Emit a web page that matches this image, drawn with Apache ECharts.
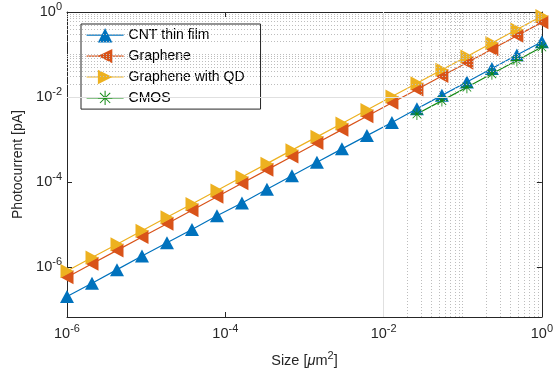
<!DOCTYPE html>
<html>
<head>
<meta charset="utf-8">
<script src="https://cdn.jsdelivr.net/npm/echarts@6/dist/echarts.min.js"></script>
<style>
html, body { margin: 0; padding: 0; background: #fff; }
#chart { width: 556px; height: 375px; }
</style>
</head>
<body>
<div id="chart"></div>
<script>
// pixel size in um^2 (logspace(-6, 0, 20))
var sizes = [1e-6, 2.069e-6, 4.281e-6, 8.859e-6, 1.833e-5, 3.793e-5, 7.848e-5, 1.624e-4, 3.360e-4, 6.952e-4,
             1.438e-3, 2.976e-3, 6.158e-3, 1.274e-2, 2.637e-2, 5.456e-2, 0.1129, 0.2336, 0.4833, 1];
// photocurrent in pA
var cntFilm = [2.0e-7, 4.1e-7, 8.6e-7, 1.8e-6, 3.7e-6, 7.6e-6, 1.6e-5, 3.2e-5, 6.7e-5, 1.4e-4,
               2.9e-4, 6.0e-4, 1.23e-3, 2.5e-3, 5.3e-3, 1.09e-2, 2.26e-2, 4.7e-2, 9.7e-2, 0.2];
var graphene = [5.7e-7, 1.18e-6, 2.44e-6, 5.05e-6, 1.04e-5, 2.16e-5, 4.47e-5, 9.3e-5, 1.92e-4, 3.96e-4,
                8.2e-4, 1.70e-3, 3.51e-3, 7.3e-3, 1.50e-2, 3.11e-2, 6.4e-2, 0.133, 0.275, 0.57];
var grapheneQD = [8.0e-7, 1.66e-6, 3.42e-6, 7.1e-6, 1.47e-5, 3.03e-5, 6.3e-5, 1.30e-4, 2.69e-4, 5.6e-4,
                  1.15e-3, 2.38e-3, 4.93e-3, 1.02e-2, 2.11e-2, 4.36e-2, 9.0e-2, 0.187, 0.387, 0.8];
var cmosSizes = [2.637e-2, 5.456e-2, 0.1129, 0.2336, 0.4833, 1];
var cmos = [3.96e-3, 8.2e-3, 1.69e-2, 3.5e-2, 7.2e-2, 0.15];

var seriesNames = ['CNT thin film', 'Graphene', 'Graphene with QD', 'CMOS'];
var xTicks = [1e-6, 1e-4, 1e-2, 1];
var yTicks = [1e-6, 1e-4, 1e-2, 1];
var xRange = [1e-6, 1];
var yRange = [6.6e-8, 1];

var axisColor = '#262626';
var font = 'Liberation Sans, Arial, Helvetica, sans-serif';

var asterisk = 'path://M9.3 0H10.7V20H9.3Z M0 9.3H20V10.7H0Z ' +
    'M2.4 3.4L3.4 2.4L17.6 16.6L16.6 17.6Z M16.6 2.4L17.6 3.4L3.4 17.6L2.4 16.6Z';

function pow10Label(v) {
    var e = Math.round(Math.log10(v));
    return '{base|10}{sup|' + e + '}';
}

// grid lines: solid at major ticks, dotted at 1..9 x 10^k
function gridLines(range, majors, key) {
    var out = [];
    var k0 = Math.floor(Math.log10(range[0]));
    var k1 = Math.ceil(Math.log10(range[1]));
    for (var k = k0; k < k1; k++) {
        for (var m = 1; m < 10; m++) {
            var v = m * Math.pow(10, k);
            if (v < range[0] * 1.001 || v > range[1] * 0.999) continue;
            var isMajor = m === 1 && majors.some(function (t) { return Math.abs(Math.log10(t) - k) < 1e-6; });
            var item = {};
            item[key] = v;
            item.lineStyle = isMajor
                ? { color: '#e0e0e0', width: 1, type: 'solid' }
                : { color: '#bdbdbd', width: 1, type: [1, 2] };
            out.push(item);
        }
    }
    return out;
}

function mainAxis(range, ticks, pos, showLabel) {
    return {
        type: 'log',
        logBase: 10,
        min: range[0],
        max: range[1],
        position: pos,
        axisLine: { show: true, onZero: false, lineStyle: { color: axisColor, width: 1 } },
        axisTick: { show: true, inside: true, length: 5, customValues: ticks, lineStyle: { color: axisColor } },
        axisLabel: {
            show: showLabel,
            customValues: ticks,
            formatter: pow10Label,
            color: axisColor,
            fontFamily: font,
            fontSize: 14,
            rich: {
                base: { fontSize: 14.5, fontFamily: font, color: axisColor },
                sup: { fontSize: 11, fontFamily: font, color: axisColor, verticalAlign: 'bottom', padding: [0, 0, 10, 0] }
            }
        },
        splitLine: { show: false },
        minorTick: { show: false },
        minorSplitLine: { show: false }
    };
}

var xBottom = mainAxis(xRange, xTicks, 'bottom', true);
xBottom.axisLabel.margin = 6;
xBottom.name = 'Size [{mu|\u03bc}m{sup|2}]';
xBottom.nameLocation = 'middle';
xBottom.nameGap = 33;
xBottom.nameTextStyle = {
    color: axisColor, fontFamily: font, fontSize: 14.5,
    rich: {
        mu: { fontSize: 14.5, fontFamily: font, color: axisColor, fontStyle: 'italic' },
        sup: { fontSize: 11, fontFamily: font, color: axisColor, verticalAlign: 'bottom', padding: [0, 0, 10, 0] }
    }
};
var xTop = mainAxis(xRange, xTicks, 'top', false);

var yLeft = mainAxis(yRange, yTicks, 'left', true);
yLeft.axisLabel.margin = 5;
yLeft.name = 'Photocurrent [pA]';
yLeft.nameLocation = 'middle';
yLeft.nameGap = 42;
yLeft.nameTextStyle = { color: axisColor, fontFamily: font, fontSize: 14 };
var yRight = mainAxis(yRange, yTicks, 'right', false);

function pairs(xs, ys) {
    return xs.map(function (x, i) { return [x, ys[i]]; });
}

function lineSeries(name, xs, ys, color, symbol, rotate, size) {
    return {
        name: name,
        type: 'line',
        xAxisIndex: 0,
        yAxisIndex: 0,
        data: pairs(xs, ys),
        symbol: symbol,
        symbolRotate: rotate,
        symbolSize: size,
        showAllSymbol: true,
        z: 3,
        lineStyle: { color: color, width: 1.2, type: 'solid' },
        itemStyle: { color: color, borderWidth: 0 },
        emphasis: { disabled: true }
    };
}

var chart = echarts.init(document.getElementById('chart'), null, { renderer: 'canvas' });

chart.setOption({
    animation: false,
    backgroundColor: '#fff',
    grid: { left: 67, right: 12, top: 12, bottom: 58, containLabel: false },
    xAxis: [xBottom, xTop],
    yAxis: [yLeft, yRight],
    legend: {
        data: seriesNames,
        orient: 'vertical',
        left: 81,
        top: 24,
        backgroundColor: '#fff',
        borderColor: axisColor,
        borderWidth: 1,
        padding: [4, 16, 4, 5],
        itemWidth: 37,
        itemHeight: 18,
        itemGap: 6.5,
        itemStyle: { borderWidth: 0 },
        lineStyle: { type: 'solid', width: 1.2 },
        textStyle: { color: '#000', fontFamily: font, fontSize: 14 }
    },
    series: [
        {
            type: 'line',
            data: [],
            z: 1,
            silent: true,
            markLine: {
                silent: true,
                symbol: 'none',
                label: { show: false },
                animation: false,
                data: gridLines(xRange, xTicks, 'xAxis').concat(gridLines(yRange, yTicks, 'yAxis'))
            }
        },
        lineSeries(seriesNames[0], sizes, cntFilm, '#0072BD', 'triangle', 0, [14, 13]),
        lineSeries(seriesNames[1], sizes, graphene, '#D95319', 'triangle', 90, [14, 13]),
        lineSeries(seriesNames[2], sizes, grapheneQD, '#EDB120', 'triangle', -90, [14, 13]),
        lineSeries(seriesNames[3], cmosSizes, cmos, '#138A13', asterisk, 0, 12)
    ]
});
</script>
</body>
</html>
